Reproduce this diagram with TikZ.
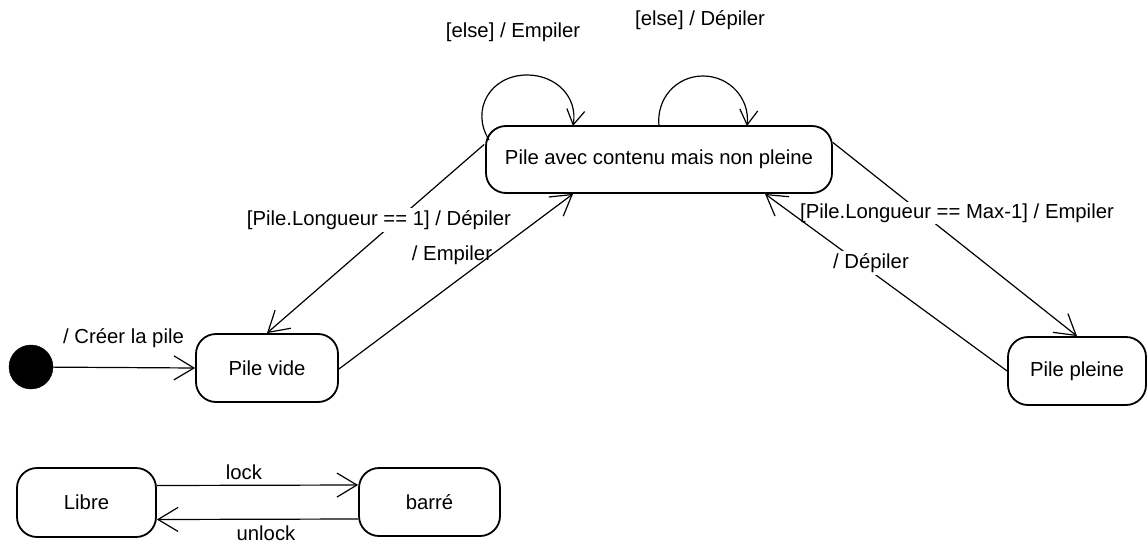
\documentclass[tikz,border=0pt]{standalone}
\usepackage{fontspec}
\setmainfont{Liberation Sans}
\usetikzlibrary{arrows.meta,calc}

\tikzset{
  state/.style={draw, line width=1.8pt, rounded corners=20pt, inner sep=0pt,
                font=\fontsize{20.3}{24}\selectfont},
  initial dot/.style={circle, fill=black, draw=black, minimum size=44pt, inner sep=0pt},
  trans/.style={line width=1.2pt, -{Straight Barb[length=20pt, width=24pt, line width=1.2pt]}},
  loopedge/.style={line width=1.2pt, -{Straight Barb[length=15pt, width=18pt, line width=1.2pt]}},
  lbl/.style={font=\fontsize{20.3}{24}\selectfont, inner sep=2pt},
  lblbg/.style={lbl, fill=white}
}

\begin{document}
\begin{tikzpicture}[x=1pt, y=-1pt]
  \useasboundingbox[fill=white] (0,0) rectangle (1148,543);

  % states of the stack
  \node[initial dot] (init) at (31,367) {};
  \node[state, minimum width=142pt, minimum height=68pt] (pv) at (267,368) {Pile vide};
  \node[state, minimum width=346pt, minimum height=67pt] (big) at (659,159.5) {Pile avec contenu mais non pleine};
  \node[state, minimum width=138pt, minimum height=68pt] (pp) at (1077,371) {Pile pleine};

  % lock states
  \node[state, minimum width=139pt, minimum height=69pt] (libre) at (86.5,502.5) {Libre};
  \node[state, minimum width=141pt, minimum height=68pt] (barre) at (429.5,502) {barré};

  % end points on the borders
  \coordinate (bigL) at ($(big.west)+(-1,-15)$);
  \coordinate (bigR) at ($(big.east)+(0,-17)$);
  \coordinate (bigB1) at ($(big.south)+(-86,0)$);
  \coordinate (bigB2) at ($(big.south)+(106,0)$);
  \coordinate (pvR) at ($(pv.east)+(0,1)$);
  \coordinate (l1s) at (489,140);
  \coordinate (l1e) at (573,126);
  \coordinate (l2s) at (659,126);
  \coordinate (l2e) at (747,126);

  % transitions
  \draw[trans] (init) -- (pv.west);
  \node[lbl] (lcreer) at (123.5,338) {/ Créer la pile};

  \draw[trans] (bigL) -- (pv.north);
  \node[lblbg] (ldep1) at (379,220) {[Pile.Longueur == 1] / Dépiler};

  \draw[trans] (pvR) -- (bigB1);
  \node[lbl] (lemp1) at (452,255) {/ Empiler};

  \draw[trans] (bigR) -- (pp.north);
  \node[lblbg] (lemp2) at (957,213) {[Pile.Longueur == Max-1] / Empiler};

  \draw[trans] (pp.west) -- (bigB2);
  \node[lblbg] (ldep2) at (871,263) {/ Dépiler};

  % self transitions
  \draw[loopedge] (l1s) .. controls (470,109) and (491,75) .. (527,75)
                        .. controls (556,75) and (578,97) .. (l1e);
  \node[lbl] (lelse1) at (513,32) {[else] / Empiler};

  \draw[loopedge] (l2s) .. controls (656,99) and (676,76) .. (703,76)
                        .. controls (730,76) and (750,99) .. (l2e);
  \node[lbl] (lelse2) at (700,20) {[else] / Dépiler};

  % lock / unlock
  \draw[trans] ($(libre.east)+(0,-17)$) -- ($(barre.west)+(0,-17)$);
  \node[lbl] (llock) at (244,472) {lock};
  \draw[trans] ($(barre.west)+(0,17)$) -- ($(libre.east)+(0,17)$);
  \node[lbl] (lunlock) at (266,533) {unlock};
\end{tikzpicture}
\end{document}
